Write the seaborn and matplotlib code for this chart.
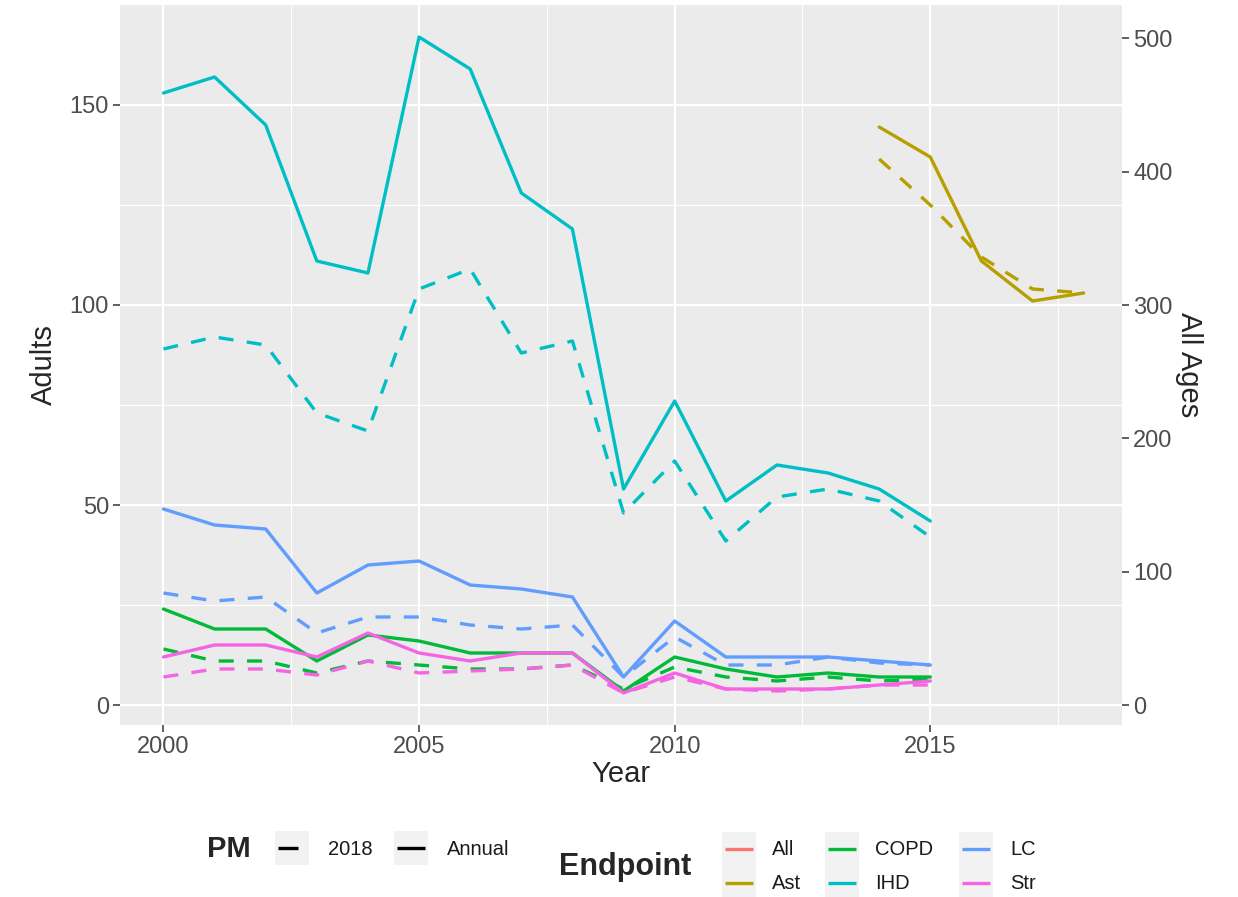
import pandas as pd
import seaborn as sns
import matplotlib.pyplot as plt
from matplotlib.lines import Line2D
from matplotlib.patches import Rectangle

years = list(range(2000, 2016))
ast_years = list(range(2014, 2019))

ihd_annual = [153, 157, 145, 111, 108, 167, 159, 128, 119, 54, 76, 51, 60, 58, 54, 46]
ihd_2018 = [89, 92, 90, 73, 68.5, 104, 109, 88, 91, 48, 61, 41, 52, 54, 51, 42]
lc_annual = [49, 45, 44, 28, 35, 36, 30, 29, 27, 7, 21, 12, 12, 12, 11, 10]
lc_2018 = [28, 26, 27, 18, 22, 22, 20, 19, 20, 7, 17, 10, 10, 12, 10.5, 10]
copd_annual = [24, 19, 19, 11, 17.5, 16, 13, 13, 13, 3.5, 12, 9, 7, 8, 7, 7]
copd_2018 = [14, 11, 11, 8, 11, 10, 9, 9, 10, 4, 9.5, 7, 6, 7, 6, 6.5]
str_annual = [12, 15, 15, 12, 18, 13, 11, 13, 13, 3, 8, 4, 4, 4, 5, 6]
str_2018 = [7, 9, 9, 7.5, 11, 8, 8.5, 9, 10, 3, 7, 4, 3.5, 4, 5, 5]
ast_annual = [144.5, 137, 111, 101, 103]
ast_2018 = [136.5, 125, 112, 104, 103]

endpoints = ["All", "Ast", "COPD", "IHD", "LC", "Str"]
colors = ["#F8766D", "#B79F00", "#00BA38", "#00BFC4", "#619CFF", "#F564E3"]
palette = dict(zip(endpoints, colors))
pm_levels = ["2018", "Annual"]

series = [
    ("Ast", "Annual", ast_years, ast_annual),
    ("Ast", "2018", ast_years, ast_2018),
    ("COPD", "Annual", years, copd_annual),
    ("COPD", "2018", years, copd_2018),
    ("IHD", "Annual", years, ihd_annual),
    ("IHD", "2018", years, ihd_2018),
    ("LC", "Annual", years, lc_annual),
    ("LC", "2018", years, lc_2018),
    ("Str", "Annual", years, str_annual),
    ("Str", "2018", years, str_2018),
]
rows = []
for ep, pm, xs, ys in series:
    for x, y in zip(xs, ys):
        rows.append({"Year": x, "Adults": y, "Endpoint": ep, "PM": pm})
df = pd.DataFrame(rows)

sns.set_style("darkgrid", {"axes.facecolor": "#EBEBEB", "grid.color": "white"})
plt.rcParams["font.family"] = ["Liberation Sans", "DejaVu Sans"]

W, H = 1238, 897
fig = plt.figure(figsize=(W / 100, H / 100), dpi=100)
ax = fig.add_axes([120 / W, 172 / H, 1002 / W, 720 / H])

LW = 2.4
sns.lineplot(
    data=df, x="Year", y="Adults", hue="Endpoint", style="PM",
    hue_order=endpoints[1:], style_order=pm_levels,
    palette=palette, dashes={"2018": (4.5, 4), "Annual": ""},
    estimator=None, linewidth=LW, legend=False, ax=ax,
)

ax.set_xlim(1999.15, 2018.75)
ax.set_ylim(-5, 175)
ax.set_xticks([2000, 2005, 2010, 2015])
ax.set_xticks([2002.5, 2007.5, 2012.5, 2017.5], minor=True)
ax.set_yticks([0, 50, 100, 150])
ax.set_yticks([25, 75, 125], minor=True)
ax.grid(which="major", color="white", linewidth=1.6)
ax.grid(which="minor", color="white", linewidth=0.8)
for s in ax.spines.values():
    s.set_visible(False)
ax.tick_params(axis="both", which="major", labelsize=17, labelcolor="#4D4D4D",
               length=5, width=1.1, color="#333333", left=True, bottom=True, pad=3)
ax.tick_params(which="minor", length=0)
ax.set_xlabel("Year", fontsize=21, labelpad=1)
ax.set_ylabel("Adults", fontsize=21, labelpad=8)

ax2 = ax.twinx()
ax2.set_ylim(-15, 525)
ax2.set_yticks([0, 100, 200, 300, 400, 500])
ax2.grid(False)
for s in ax2.spines.values():
    s.set_visible(False)
ax2.tick_params(axis="y", labelsize=17, labelcolor="#4D4D4D", length=5, width=1.1,
                color="#333333", right=True, pad=3)
ax2.set_ylabel("All Ages", fontsize=21, rotation=270, labelpad=22)


def fx(px):
    return px / W


def fy(py):
    return 1 - py / H


def legend_key(x0, x1, y, color, ls="-"):
    fig.add_artist(Rectangle((fx(x0 - 3), fy(y + 17)), (x1 - x0 + 6) / W, 34 / H,
                             transform=fig.transFigure, facecolor="#F2F2F2",
                             edgecolor="none"))
    fig.add_artist(Line2D([fx(x0), fx(x1)], [fy(y), fy(y)], color=color,
                          linewidth=LW, linestyle=ls, transform=fig.transFigure,
                          solid_capstyle="butt", dash_capstyle="butt"))


# PM legend
fig.text(fx(207), fy(849), "PM", fontsize=21, fontweight="bold", va="center")
legend_key(278, 306, 848, "black", ls=(0, (6, 10)))
fig.text(fx(328), fy(849), "2018", fontsize=14.5, va="center", color="#1A1A1A")
legend_key(397, 425, 848, "black")
fig.text(fx(447), fy(849), "Annual", fontsize=14.5, va="center", color="#1A1A1A")

# Endpoint legend
fig.text(fx(559), fy(867), "Endpoint", fontsize=22, fontweight="bold", va="center")
col_x = [(725, 753, 772), (828, 856, 875), (962, 990, 1010)]
row_y = [849, 883]
for i, (ep, c) in enumerate(zip(endpoints, colors)):
    x0, x1, tx = col_x[i // 2]
    y = row_y[i % 2]
    legend_key(x0, x1, y, c)
    fig.text(fx(tx), fy(y), ep, fontsize=14.5, va="center", color="#1A1A1A")

fig.savefig("out.png", dpi=100)
